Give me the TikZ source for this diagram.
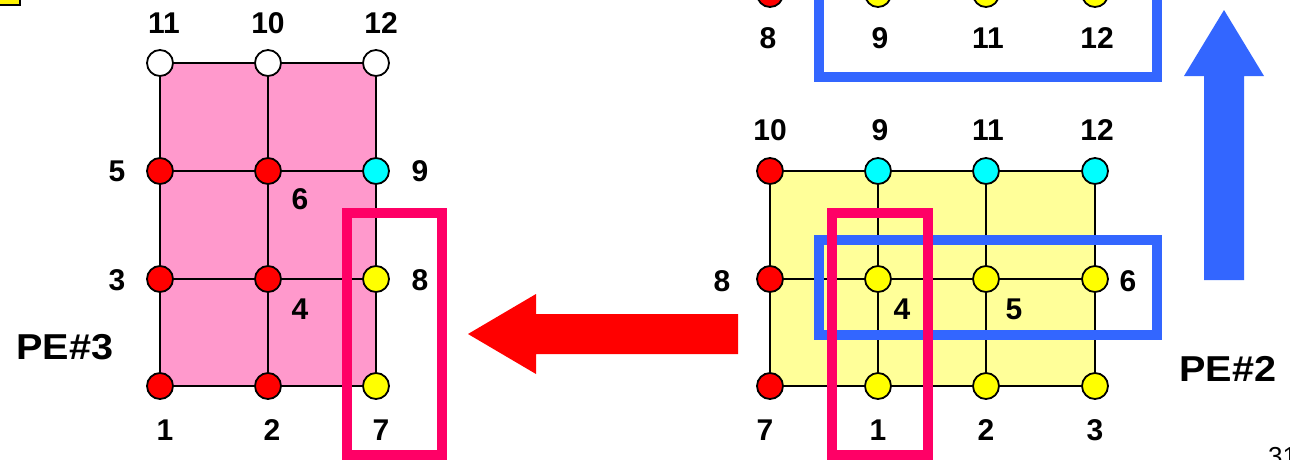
\documentclass[tikz,border=0pt]{standalone}
\usepackage{fontspec}
\setmainfont{Liberation Sans}
\definecolor{meshpink}{RGB}{255,153,204}
\definecolor{meshyellow}{RGB}{255,255,153}
\definecolor{ptyellow}{RGB}{255,255,0}
\definecolor{ptcyan}{RGB}{0,255,255}
\definecolor{boxpink}{RGB}{255,0,102}
\definecolor{boxblue}{RGB}{51,102,255}
\tikzset{
  pt/.style={circle,draw,line width=1.8pt,minimum size=26pt,inner sep=0pt},
  num/.style={font=\fontsize{30}{30}\selectfont\bfseries},
  pename/.style={font=\fontsize{36}{36}\selectfont\bfseries,xscale=1.1},
  halo/.style={draw=boxpink,line width=10pt},
  bluebox/.style={draw=boxblue,line width=10pt},
  edge/.style={line width=2pt}
}

\begin{document}
\begin{tikzpicture}[x=1pt,y=-1pt]
\useasboundingbox (0,0) rectangle (1290,459);
\draw[fill=yellow,line width=1.5pt] (-10,-10) rectangle (20,5);

% PE#3
\fill[meshpink] (160,63) rectangle (376,386);
\foreach \n/\x/\y/\c in {11/160/63/white,10/268/63/white,12/376/63/white,
    5/160/171/red,6/268/171/red,9/376/171/ptcyan,
    3/160/279/red,4/268/279/red,8/376/279/ptyellow,
    1/160/386/red,2/268/386/red,7/376/386/ptyellow}
  \node[pt,fill=\c] (l\n) at (\x,\y) {};
\foreach \a/\b in {11/5,5/3,3/1,10/6,6/4,4/2,12/9,9/8,8/7,
    11/10,10/12,5/6,6/9,3/4,4/8,1/2,2/7}
  \draw[edge] (l\a) -- (l\b);
\foreach \x/\y/\t in {164/23/11,268/23/10,381/23/12,117/171/5,420/171/9,300/199/6,
    117/280/3,420/280/8,300/309/4,165/430/1,272/430/2,381/430/7}
  \node[num] at (\x,\y) {\t};
\node[pename] at (65,347) {PE\#3};
\draw[halo] (347,213) rectangle (442,455);

% arrow PE#2 -> PE#3
\fill[red] (738,314) -- (536,314) -- (536,294) -- (468,334) -- (536,374) -- (536,354) -- (738,354) -- cycle;

% PE#2
\fill[meshyellow] (770,171) rectangle (1095,386);
\foreach \n/\x/\y/\c in {10/770/171/red,9/878/171/ptcyan,11/986/171/ptcyan,12/1095/171/ptcyan,
    8/770/279/red,4/878/279/ptyellow,5/986/279/ptyellow,6/1095/279/ptyellow,
    7/770/386/red,1/878/386/ptyellow,2/986/386/ptyellow,3/1095/386/ptyellow}
  \node[pt,fill=\c] (r\n) at (\x,\y) {};
\foreach \a/\b in {10/8,8/7,9/4,4/1,11/5,5/2,12/6,6/3,
    10/9,9/11,11/12,8/4,4/5,5/6,7/1,1/2,2/3}
  \draw[edge] (r\a) -- (r\b);
\foreach \x/\y/\t in {770/130/10,880/130/9,988/130/11,1097/130/12,722/281/8,1128/281/6,
    902/309/4,1014/309/5,765/430/7,878/430/1,986/430/2,1095/430/3}
  \node[num] at (\x,\y) {\t};
\node[pename] at (1228,369) {PE\#2};
\draw[bluebox] (819,240) rectangle (1157,335);
\draw[halo] (832,213) rectangle (928,455);

% PE#2 above
\foreach \n/\x/\c in {8/770/red,9/878/ptyellow,11/986/ptyellow,12/1095/ptyellow}
  \node[pt,fill=\c] (t\n) at (\x,-6) {};
\foreach \x/\t in {768/8,880/9,988/11,1097/12}
  \node[num] at (\x,38) {\t};
\draw[bluebox] (819,-20) rectangle (1157,77);
\fill[boxblue] (1204,280) -- (1204,76) -- (1184,76) -- (1224,10) -- (1264,76) -- (1244,76) -- (1244,280) -- cycle;

\node[anchor=north west,inner sep=0pt,font=\fontsize{26}{26}\selectfont] at (1268,447) {31};
\end{tikzpicture}
\end{document}
